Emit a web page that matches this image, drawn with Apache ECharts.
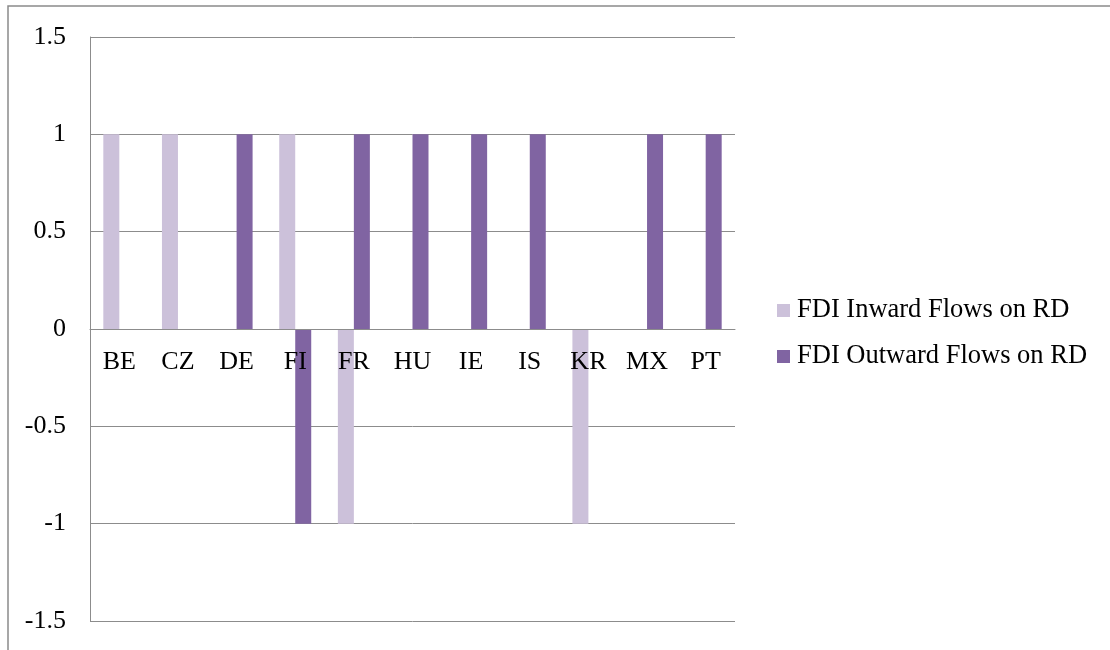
<!DOCTYPE html>
<html>
<head>
<meta charset="utf-8">
<script src="https://cdn.jsdelivr.net/npm/echarts@6/dist/echarts.min.js"></script>
<style>
  html, body { margin: 0; padding: 0; background: #fff; }
  #chart { width: 1110px; height: 650px; }
</style>
</head>
<body>
<div id="chart"></div>
<script>
// Country codes along the category axis
const countries = ['BE', 'CZ', 'DE', 'FI', 'FR', 'HU', 'IE', 'IS', 'KR', 'MX', 'PT'];
// Direction of the FDI effect on R&D for each country
const inwardFlows  = [1, 1, 0, 1, -1, 0, 0, 0, -1, 0, 0];
const outwardFlows = [0, 0, 1, -1, 1, 1, 1, 1, 0, 1, 1];
const seriesNames = ['FDI Inward Flows on RD', 'FDI Outward Flows on RD'];

const serif = '"Liberation Serif", "DejaVu Serif", serif';
const gridGray = '#8c8c8c';

const gridTop = 37, gridBottom = 29, chartHeight = 650;
const yMin = -1.5, yMax = 1.5;
// Lift the category axis so it sits on the zero line of the value axis
const plotHeight = chartHeight - gridTop - gridBottom;
const zeroLift = -plotHeight * (0 - yMin) / (yMax - yMin);

const chart = echarts.init(document.getElementById('chart'), null, { renderer: 'canvas' });
chart.setOption({
  animation: false,
  backgroundColor: '#fff',
  textStyle: { fontFamily: serif },
  graphic: [{
    type: 'rect',
    shape: { x: 8, y: 6, width: 1200, height: 700 },
    style: { fill: 'none', stroke: '#8a8a8a', lineWidth: 1.5 },
    silent: true
  }],
  grid: { left: 90, right: 375, top: gridTop, bottom: gridBottom, containLabel: false, outerBoundsMode: 'none' },
  legend: {
    orient: 'vertical',
    left: 777,
    top: 297,
    padding: 0,
    itemWidth: 13,
    itemHeight: 13,
    itemGap: 19,
    icon: 'rect',
    textStyle: { fontFamily: serif, fontSize: 26.5, color: '#000', padding: [0, 0, 0, 2] },
    data: seriesNames
  },
  xAxis: {
    type: 'category',
    data: countries,
    offset: zeroLift,
    z: 10,
    axisLine: { show: true, onZero: false, lineStyle: { color: gridGray, width: 1 } },
    axisTick: { show: false },
    axisLabel: { fontFamily: serif, fontSize: 26, color: '#000', margin: 20 },
    splitLine: { show: false }
  },
  yAxis: {
    type: 'value',
    min: yMin,
    max: yMax,
    interval: 0.5,
    axisLine: { show: true, lineStyle: { color: gridGray, width: 1 } },
    axisTick: { show: false },
    axisLabel: { fontFamily: serif, fontSize: 26, color: '#000', margin: 24 },
    splitLine: { show: true, lineStyle: { color: gridGray, width: 1 } }
  },
  series: [
    {
      name: seriesNames[0],
      type: 'bar',
      data: inwardFlows,
      barWidth: 16,
      barGap: '0%',
      itemStyle: { color: '#ccc1da' }
    },
    {
      name: seriesNames[1],
      type: 'bar',
      data: outwardFlows,
      barWidth: 16,
      barGap: '0%',
      itemStyle: { color: '#8064a2' }
    }
  ]
});
</script>
</body>
</html>
